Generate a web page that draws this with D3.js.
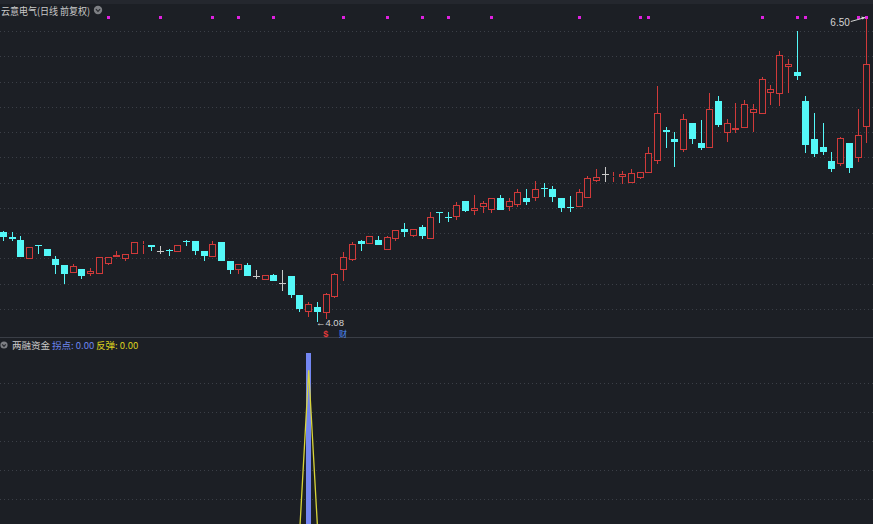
<!DOCTYPE html>
<html><head><meta charset="utf-8">
<script src="https://cdn.jsdelivr.net/npm/d3@7"></script>
<style>html,body{margin:0;padding:0;background:#1c1f25;overflow:hidden}</style>
</head><body>
<svg id="c" width="873" height="524"></svg>
<script>
// ---- data (daily candles, forward-adjusted) ----
const opens = [4.79,4.75,4.73,4.58,4.69,4.66,4.58,4.53,4.47,4.50,
4.46,4.46,4.54,4.59,4.58,4.62,4.69,4.69,4.64,4.65,
4.63,4.72,4.72,4.64,4.59,4.71,4.56,4.49,4.53,4.44,
4.41,4.45,4.39,4.44,4.29,4.16,4.20,4.15,4.28,4.49,
4.57,4.72,4.70,4.73,4.65,4.74,4.82,4.76,4.83,4.74,
4.95,4.91,4.91,5.04,4.96,4.99,4.97,5.06,4.99,5.01,
5.06,5.06,5.14,5.13,5.06,4.99,4.99,5.06,5.20,5.25,
5.23,5.23,5.18,5.22,5.26,5.36,5.60,5.53,5.44,5.66,
5.50,5.46,5.83,5.58,5.60,5.62,5.74,5.73,5.90,5.89,
6.10,6.06,5.83,5.53,5.47,5.36,5.33,5.50,5.38,5.63];
const closes = [4.75,4.74,4.59,4.67,4.68,4.60,4.53,4.46,4.52,4.44,
4.48,4.59,4.59,4.61,4.62,4.71,4.70,4.67,4.64,4.64,
4.69,4.71,4.64,4.60,4.70,4.56,4.49,4.54,4.44,4.44,
4.45,4.40,4.39,4.29,4.18,4.22,4.16,4.30,4.46,4.59,
4.70,4.70,4.76,4.69,4.75,4.81,4.79,4.82,4.76,4.91,
4.94,4.90,5.01,4.96,4.98,5.02,5.06,4.97,5.04,5.11,
5.03,5.13,5.13,5.07,4.98,4.98,5.11,5.22,5.23,5.25,
5.24,5.25,5.26,5.27,5.42,5.74,5.59,5.51,5.69,5.53,
5.46,5.77,5.64,5.66,5.62,5.81,5.77,6.01,5.93,6.20,
6.13,6.03,5.48,5.41,5.43,5.29,5.54,5.30,5.56,6.13];
const highs = [4.80,4.79,4.76,4.67,4.69,4.66,4.60,4.53,4.54,4.50,
4.51,4.59,4.59,4.64,4.62,4.71,4.72,4.69,4.68,4.66,
4.69,4.73,4.72,4.64,4.72,4.71,4.56,4.54,4.55,4.49,
4.45,4.46,4.49,4.44,4.29,4.24,4.24,4.31,4.47,4.63,
4.71,4.73,4.76,4.76,4.76,4.81,4.86,4.82,4.85,4.95,
4.95,4.95,5.03,5.04,5.09,5.04,5.06,5.09,5.06,5.13,
5.13,5.20,5.18,5.16,5.06,5.08,5.13,5.24,5.29,5.31,
5.27,5.28,5.29,5.27,5.47,5.95,5.63,5.59,5.73,5.66,
5.68,5.90,5.87,5.69,5.82,5.84,5.81,6.02,5.96,6.23,
6.17,6.39,5.87,5.74,5.66,5.43,5.55,5.50,5.77,6.50];
const lows = [4.72,4.72,4.59,4.58,4.62,4.60,4.46,4.38,4.47,4.42,
4.44,4.46,4.53,4.59,4.56,4.62,4.62,4.64,4.62,4.60,
4.63,4.68,4.61,4.56,4.59,4.56,4.46,4.46,4.44,4.42,
4.41,4.40,4.32,4.27,4.16,4.12,4.08,4.10,4.27,4.40,
4.56,4.64,4.70,4.69,4.65,4.72,4.75,4.75,4.74,4.74,
4.86,4.87,4.89,4.95,4.93,4.94,4.94,4.97,4.96,4.99,
5.01,5.04,5.07,5.03,4.95,4.95,4.99,5.06,5.19,5.19,
5.19,5.17,5.18,5.21,5.26,5.33,5.46,5.31,5.43,5.49,
5.44,5.46,5.63,5.51,5.58,5.62,5.59,5.73,5.80,5.79,
5.90,6.00,5.42,5.39,5.40,5.27,5.32,5.26,5.35,5.50];
// signal dots shown at the top of the price panel (day index)
const signalDays = [12,18,24,27,31,39,44,48,51,56,66,73,74,87,91,92,98,99];
// event markers under the candles
const eventDays = [37,39];
const eventLabels = ["$","财"];
// lower indicator 两融资金
const turnDays = [35];
const turnValues = [100];
const reboundDays = [34,35,36];
const reboundValues = [0,90,0];

const W = 873, H = 524;
const svg = d3.select("#c");
const BG = "#1c1f25";
const RED = "#d03a3a", CYAN = "#54f8f8", DOJI = "#c8c8c8";
svg.append("rect").attr("width",W).attr("height",H).attr("fill",BG);

const n = opens.length;
const x = d3.scalePoint().domain(d3.range(n)).range([3, 866.3]);
const y = d3.scaleLinear().domain([4.08, 6.50]).range([321.7, 17]);
const y2 = d3.scaleLinear().domain([0, 100]).range([526, 353]);

// top header strip
svg.append("rect").attr("x",0).attr("y",0).attr("width",W).attr("height",4).attr("fill","#24272e");

// grid (upper panel)
const gridUpper = d3.range(12).map(k => 31 + k*25.25);
svg.append("g").selectAll("line").data(gridUpper).join("line")
  .attr("x1",0).attr("x2",W).attr("y1",d=>Math.round(d)+0.5).attr("y2",d=>Math.round(d)+0.5)
  .attr("stroke","#3b3f47").attr("stroke-dasharray","1,3");
// panel separator
svg.append("line").attr("x1",0).attr("x2",W).attr("y1",337.5).attr("y2",337.5).attr("stroke","#3a3e46");
// grid lower
const gridLower = d3.range(5).map(k => 382.7 + k*29);
svg.append("g").selectAll("line").data(gridLower).join("line")
  .attr("x1",0).attr("x2",W).attr("y1",d=>Math.round(d)+0.5).attr("y2",d=>Math.round(d)+0.5)
  .attr("stroke","#3b3f47").attr("stroke-dasharray","1,3");

// candles
const data = d3.range(n).map(i => ({i, o:opens[i], c:closes[i], h:highs[i], l:lows[i]}));
const g = svg.append("g");
data.forEach(d => {
  const rx = Math.round(x(d.i));
  const cx = rx + 0.5;
  const col = d.c > d.o ? RED : (d.c < d.o ? CYAN : DOJI);
  const top = Math.round(y(Math.max(d.o,d.c)));
  const bot = Math.round(y(Math.min(d.o,d.c)));
  const yh = Math.round(y(d.h)), yl = Math.round(y(d.l));
  if (yh < top) g.append("line").attr("x1",cx).attr("x2",cx).attr("y1",yh).attr("y2",top).attr("stroke",col);
  if (yl > bot) g.append("line").attr("x1",cx).attr("x2",cx).attr("y1",bot).attr("y2",yl).attr("stroke",col);
  if (bot - top < 1) {
    g.append("line").attr("x1",rx-3).attr("x2",rx+4).attr("y1",top+0.5).attr("y2",top+0.5).attr("stroke",col);
  } else if (d.c > d.o) {
    g.append("rect").attr("x",rx-2.5).attr("y",top+0.5).attr("width",6).attr("height",Math.max(bot-top-1,0))
      .attr("fill",BG).attr("stroke",col);
  } else {
    g.append("rect").attr("x",rx-3).attr("y",top).attr("width",7).attr("height",bot-top).attr("fill",col);
  }
});

// signal dots
svg.append("g").selectAll("rect").data(signalDays).join("rect")
  .attr("x",d=>Math.round(x(d))-1).attr("y",16).attr("width",3).attr("height",3).attr("fill","#e020e0");

// title
const fCJK = "'Noto Sans CJK SC','Noto Sans',sans-serif";
const fNum = "'Liberation Sans',Arial,sans-serif";
svg.append("text").attr("x",1).attr("y",14.5).attr("font-family",fCJK).attr("font-size",10)
  .attr("textLength",89).attr("lengthAdjust","spacingAndGlyphs")
  .attr("fill","#c9c9c9").text("云意电气(日线 前复权)");
function icon(cx, cy, r){
  svg.append("circle").attr("cx",cx).attr("cy",cy).attr("r",r).attr("fill","#7d7f84");
  svg.append("path").attr("d",`M${cx-r*0.5},${cy-r*0.2} L${cx},${cy+r*0.35} L${cx+r*0.5},${cy-r*0.2}`)
    .attr("fill","none").attr("stroke","#2a2c31").attr("stroke-width",1.2);
}
icon(98, 10, 4.2);

// low / high labels
const iLow = d3.minIndex(lows), iHigh = d3.maxIndex(highs);
svg.append("text").attr("x",x(iLow)-1).attr("y",y(lows[iLow])+4).attr("font-family",fNum).attr("font-size",9.5)
  .attr("fill","#d4d4d4").text("←" + lows[iLow].toFixed(2));
svg.append("text").attr("x",x(iHigh)-16.5).attr("y",y(highs[iHigh])+9).attr("text-anchor","end")
  .attr("font-family",fNum).attr("font-size",10).attr("fill","#d4d4d4").text(highs[iHigh].toFixed(2));
svg.append("line").attr("x1",x(iHigh)-15.5).attr("y1",y(highs[iHigh])+4.5).attr("x2",x(iHigh)-1).attr("y2",y(highs[iHigh])+0.5)
  .attr("stroke","#d4d4d4");
svg.append("path").attr("d",`M${x(iHigh)-1},${y(highs[iHigh])+0.5} l-4,-1 l1,3 z`).attr("fill","#d4d4d4");

// event markers
const evColors = ["#e33a3a","#4d8dff"];
const evFonts = [fNum, fCJK];
const evSizes = [9, 8];
eventDays.forEach((d,k) => {
  svg.append("text").attr("x",x(d)).attr("y",337.2).attr("text-anchor","middle")
    .attr("font-family",evFonts[k]).attr("font-size",evSizes[k]).attr("font-weight",k===0?"bold":"normal")
    .attr("fill",evColors[k]).text(eventLabels[k]);
});

// lower panel
icon(4, 345, 3.6);
const lt = svg.append("text").attr("y",348.5).attr("font-family",fCJK).attr("font-size",9.5);
lt.append("tspan").attr("x",12).attr("fill","#c9c9c9").text("两融资金");
lt.append("tspan").attr("x",52).attr("fill","#6c86ee").text("拐点: 0.00");
lt.append("tspan").attr("x",96).attr("fill","#dcd21e").text("反弹: 0.00");

svg.append("g").selectAll("rect").data(turnDays).join("rect")
  .attr("x",(d)=>Math.round(x(d))-2).attr("y",(d,k)=>y2(turnValues[k])).attr("width",5)
  .attr("height",(d,k)=>y2(0)-y2(turnValues[k])).attr("fill","#7386f2");
const line = d3.line().x((d,k)=>x(reboundDays[k])+0.5).y(d=>y2(d));
svg.append("path").attr("d",line(reboundValues)).attr("fill","none").attr("stroke","#d8d43a").attr("stroke-width",1.3);
</script>
</body></html>
